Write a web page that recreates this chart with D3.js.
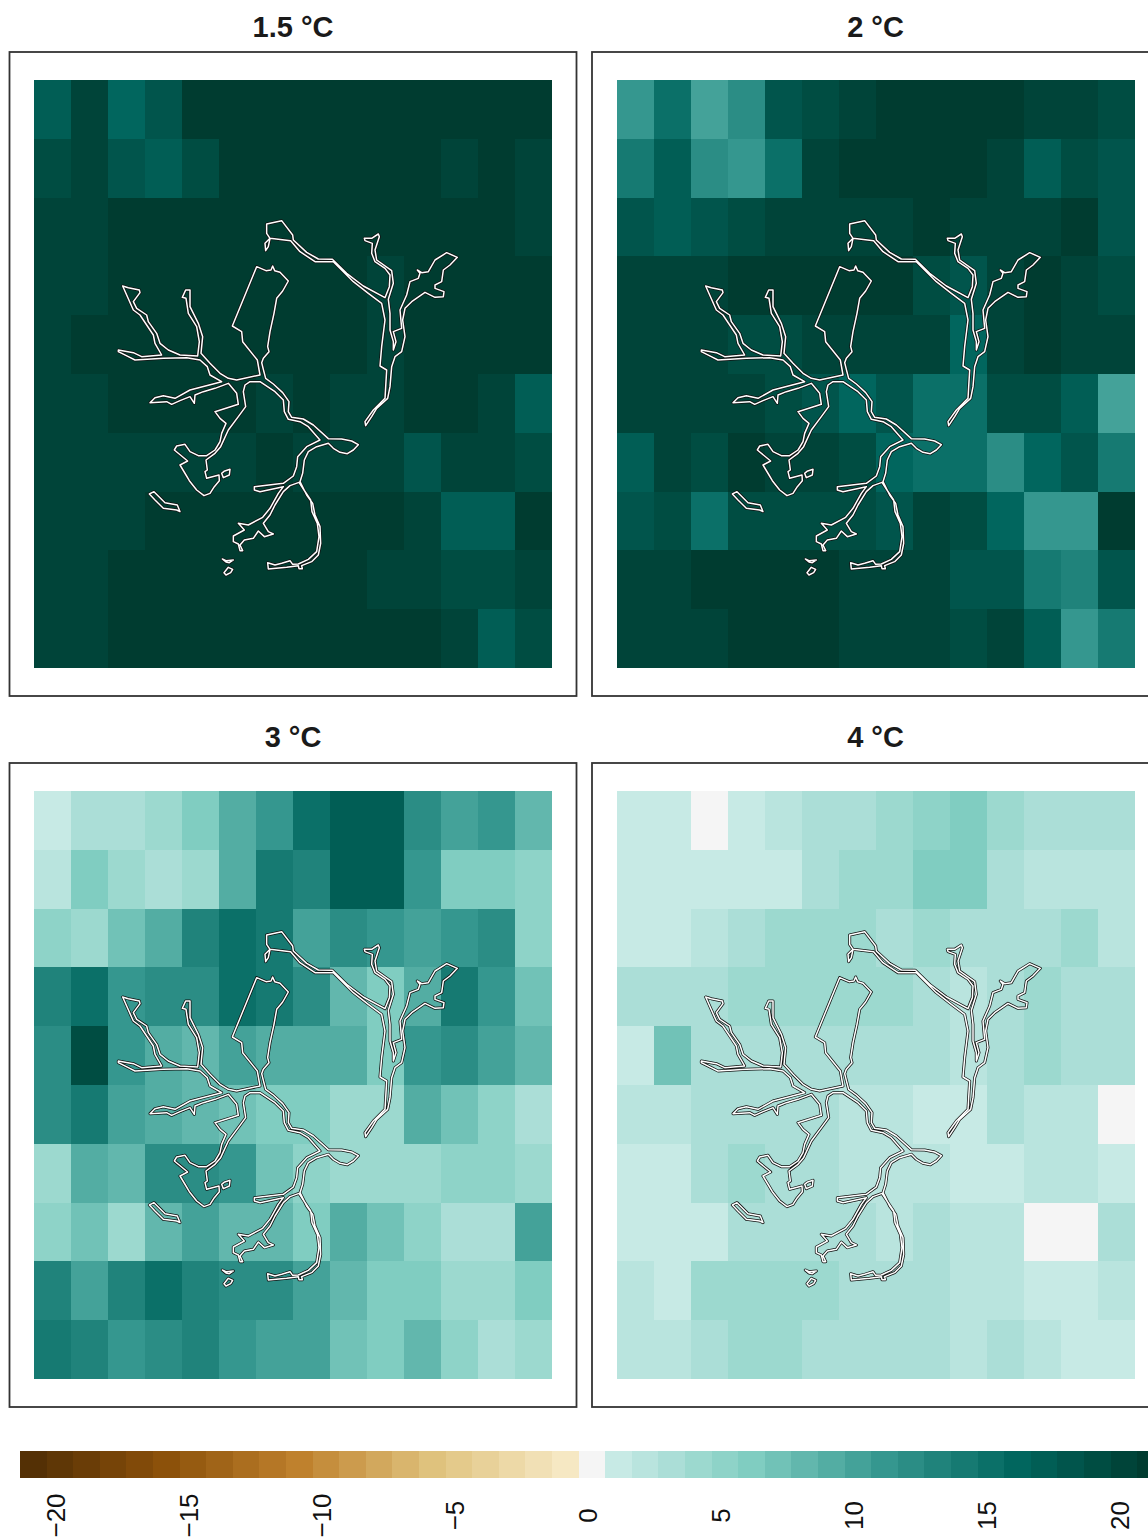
<!DOCTYPE html>
<html>
<head>
<meta charset="utf-8">
<script src="https://cdn.jsdelivr.net/npm/d3@7"></script>
<style>
html, body { margin: 0; padding: 0; background: #fff; overflow: hidden; }
svg { display: block; }
text { font-family: "Liberation Sans", Arial, sans-serif; }
</style>
</head>
<body>
<script>
// Warming levels, one panel each
const titles = ["1.5 °C", "2 °C", "3 °C", "4 °C"];

// Change per grid cell, 10 rows of 14 columns
const values15 = [
  [17,20,16,18,21,21,21,21,21,21,21,21,21,21],
  [19,20,18,17,19,21,21,21,21,21,21,20,21,20],
  [20,20,21,21,21,21,21,21,21,21,21,21,21,20],
  [20,20,21,21,21,21,21,21,21,20,21,21,21,21],
  [20,21,21,21,21,21,21,21,21,20,21,21,21,21],
  [20,20,21,21,21,21,20,21,20,20,21,21,20,17],
  [20,20,20,20,20,20,21,20,20,20,18,20,20,19],
  [20,20,20,21,21,21,21,21,21,21,20,17,17,21],
  [20,20,21,21,21,21,21,21,21,20,20,19,19,20],
  [20,20,21,21,21,21,21,21,21,21,21,20,17,19]
];
const values2 = [
  [11,15,10,12,18,19,20,21,21,21,21,20,20,19],
  [14,17,12,11,15,20,21,21,21,21,20,17,19,18],
  [18,17,18,19,20,20,20,20,21,20,20,20,21,18],
  [20,20,20,21,21,21,21,21,19,18,20,21,20,19],
  [20,20,20,19,19,20,20,20,20,16,20,21,20,20],
  [20,20,20,20,19,18,16,18,15,15,19,19,17,10],
  [17,20,19,21,20,20,19,16,15,15,12,16,18,14],
  [18,19,15,19,19,19,19,18,20,19,16,11,11,21],
  [20,20,21,21,21,21,20,20,20,18,18,14,13,18],
  [20,20,20,21,21,21,20,20,20,19,20,17,11,14]
];
const values3 = [
  [1,3,3,4,6,9,11,15,17,17,12,10,11,8],
  [2,6,4,3,4,9,14,13,17,17,11,6,6,5],
  [5,4,7,9,13,15,14,10,12,11,10,11,12,5],
  [13,15,11,12,12,15,14,12,8,6,9,14,11,7],
  [12,19,11,9,8,10,9,9,9,6,11,12,10,8],
  [12,14,10,9,8,7,6,6,4,4,9,7,5,3],
  [4,9,8,12,12,11,7,5,4,4,4,5,5,4],
  [5,7,4,8,10,8,8,6,9,7,5,3,3,10],
  [13,10,13,15,13,12,12,10,8,6,6,4,4,6],
  [14,13,11,12,13,11,10,10,7,6,8,5,3,4]
];
const values4 = [
  [1,1,0,1,2,3,3,4,5,6,4,3,3,3],
  [1,1,1,1,1,3,4,4,6,6,3,2,2,2],
  [1,1,2,3,4,4,4,3,4,3,3,3,4,2],
  [3,3,3,4,4,4,4,4,3,2,3,4,3,3],
  [1,7,3,3,3,3,3,3,3,2,3,4,3,3],
  [2,2,3,3,3,3,2,2,1,1,3,2,2,0],
  [1,1,3,4,3,3,2,2,2,1,1,2,2,1],
  [1,1,1,3,3,3,3,2,3,2,2,0,0,3],
  [2,1,4,4,4,4,3,3,3,2,2,1,1,2],
  [2,2,3,4,4,3,3,3,3,2,3,2,1,1]
];
const panelValues = [values15, values2, values3, values4];

// Colour key
const levels = d3.range(-21, 22);
const colourStops = [-21, -16, -11, -6, -1, 0, 1, 6, 11, 16, 21];
const colours = ["#543005","#8c510a","#bf812d","#dfc27d","#f6e8c3","#f5f5f5","#c7eae5","#80cdc1","#35978f","#01665e","#003c30"];
const keyTicks = [-20, -15, -10, -5, 0, 5, 10, 15, 20];

// River outlines in map units
const riverWest = [[470,170],[498,182],[513,180],[518,168],[524,182],[540,187],[565,213],[548,243],[530,265],[522,310],[510,365],[503,410],[507,425],[490,445],[485,458],[490,478],[497,505],[520,522],[548,548],[567,575],[565,605],[575,622],[610,627],[640,645],[685,686],[725,687],[755,693],[775,704],[760,720],[742,731],[720,727],[700,715],[685,700],[650,710],[625,725],[613,750],[608,790],[600,815],[620,855],[638,880],[645,915],[660,950],[662,1000],[655,1035],[635,1055],[605,1067],[607,1076],[597,1076],[595,1067],[560,1072],[505,1077],[503,1058],[525,1065],[545,1060],[570,1052],[578,1063],[595,1062],[625,1048],[650,1025],[657,980],[652,940],[636,905],[632,870],[612,840],[597,817],[570,827],[550,845],[525,885],[510,915],[490,940],[505,965],[520,972],[493,980],[475,963],[460,985],[433,990],[420,1005],[428,1022],[420,1022],[415,1002],[400,995],[400,978],[433,960],[415,940],[445,945],[488,922],[510,895],[535,850],[550,830],[480,845],[463,840],[463,830],[550,820],[580,798],[590,770],[593,740],[620,710],[660,690],[625,650],[600,635],[565,628],[553,605],[550,570],[525,545],[480,515],[450,515],[435,525],[430,545],[437,590],[415,620],[385,660],[362,710],[345,730],[318,750],[322,780],[315,785],[320,805],[357,795],[358,812],[343,830],[330,850],[312,857],[290,840],[268,812],[258,795],[240,765],[263,753],[223,720],[230,708],[255,703],[270,725],[295,737],[320,737],[345,720],[360,695],[365,670],[378,640],[360,625],[345,605],[415,583],[410,550],[385,520],[345,535],[310,545],[285,555],[283,580],[270,560],[240,572],[215,583],[200,575],[150,578],[165,563],[190,557],[225,565],[270,540],[365,515],[330,495],[322,470],[300,450],[260,443],[190,445],[105,450],[85,440],[55,425],[55,420],[100,428],[125,440],[185,435],[165,400],[160,375],[130,330],[120,315],[100,300],[68,228],[85,233],[118,240],[120,248],[100,275],[110,295],[140,315],[145,335],[170,370],[180,400],[205,420],[240,435],[293,438],[298,395],[290,350],[265,310],[258,265],[247,262],[257,240],[270,240],[270,290],[295,340],[308,380],[303,430],[330,460],[360,490],[385,505],[410,510],[480,495],[472,450],[428,395],[425,365],[397,348]];
const riverEast = [[510,85],[500,70],[500,42],[545,32],[578,75],[580,90],[620,127],[655,147],[697,148],[740,190],[790,228],[855,263],[868,230],[870,195],[855,175],[825,155],[815,130],[817,100],[795,92],[793,85],[815,85],[835,72],[838,80],[825,120],[830,150],[875,182],[880,220],[865,268],[870,310],[870,360],[880,395],[880,420],[888,395],[880,365],[905,355],[900,300],[920,255],[930,215],[955,205],[960,190],[952,180],[965,188],[985,185],[1005,150],[1040,128],[1072,142],[1050,165],[1030,180],[1025,215],[1005,225],[1005,235],[1032,245],[1030,260],[1005,262],[975,247],[935,275],[915,295],[908,330],[915,380],[905,425],[885,440],[875,470],[870,530],[863,565],[830,595],[815,620],[797,647],[795,635],[820,600],[855,565],[860,480],[840,468],[845,410],[855,330],[845,280],[805,250],[760,215],[700,155],[645,155],[600,125],[572,92],[510,85],[495,100],[497,122],[505,110]];
const lakeA = [[365,790],[372,784],[390,778],[388,795],[370,803]];
const lakeB = [[148,852],[162,845],[195,878],[232,885],[240,905],[230,900],[190,895],[165,870]];
const lakeC = [[367,1047],[378,1052],[400,1050],[388,1058],[378,1056]];
const lakeD = [[372,1088],[385,1072],[398,1078],[392,1088],[378,1095]];
const riverParts = [riverWest, riverEast, lakeA, lakeB, lakeC, lakeD];

const width = 1148;
const height = 1537;

const svg = d3.select("body")
    .append("svg")
    .attr("width", width)
    .attr("height", height);

const colour = d3.scaleLinear()
    .domain(colourStops)
    .range(colours)
    .interpolate(d3.interpolateRgb);

// Panel grid
const gridW = 518;
const gridH = 588;
const x = d3.scaleBand().domain(d3.range(14)).range([0, gridW]);
const y = d3.scaleBand().domain(d3.range(10)).range([0, gridH]);

// Map units to panel pixels
const map_x = d3.scaleLinear().domain([-198, 1356]).range([0, gridW]);
const map_y = d3.scaleLinear().domain([-390, 1374]).range([0, gridH]);
const river_line = d3.line().x(d => map_x(d[0])).y(d => map_y(d[1]));

const panelLeft = [34, 617];
const panelTop = [80, 791];

titles.forEach((title, i) => {
    const right = i % 2 === 1;
    const g = svg.append("g")
        .attr("transform", `translate(${panelLeft[i % 2]}, ${panelTop[Math.floor(i / 2)]})`);

    // Frame
    g.append("rect")
        .attr("x", right ? -25 : -24.5)
        .attr("y", -28)
        .attr("width", 567)
        .attr("height", 644)
        .attr("fill", "none")
        .attr("stroke", "#333333")
        .attr("stroke-width", 1.8);

    g.append("text")
        .attr("x", gridW / 2 - (right ? 0.5 : 0))
        .attr("y", i < 2 ? -43 : -44)
        .attr("text-anchor", "middle")
        .attr("font-size", 29)
        .attr("font-weight", "bold")
        .attr("fill", "#1a1a1a")
        .text(title);

    // Cells
    panelValues[i].forEach((row, r) => {
        g.selectAll(null)
            .data(row)
            .enter()
            .append("rect")
            .attr("x", (d, c) => x(c))
            .attr("y", y(r))
            .attr("width", x.bandwidth())
            .attr("height", y.bandwidth())
            .attr("fill", d => colour(d))
            .attr("shape-rendering", "crispEdges");
    });

    // River, dark casing under a white line
    g.selectAll(null)
        .data(riverParts)
        .enter()
        .append("path")
        .attr("d", d => river_line(d) + "Z")
        .attr("fill", "none")
        .attr("stroke", "#111111")
        .attr("stroke-width", 3)
        .attr("stroke-linejoin", "round");
    g.selectAll(null)
        .data(riverParts)
        .enter()
        .append("path")
        .attr("d", d => river_line(d) + "Z")
        .attr("fill", "none")
        .attr("stroke", "#ffffff")
        .attr("stroke-width", 1.5)
        .attr("stroke-linejoin", "round");
});

// Colour key, each level one unit wide
const key_x = d3.scaleLinear()
    .domain([-21.5, 21.5])
    .range([20, 1163.8]);

svg.append("g")
    .selectAll("rect")
    .data(levels)
    .enter()
    .append("rect")
    .attr("x", d => key_x(d - 0.5))
    .attr("y", 1451)
    .attr("width", d => key_x(d + 0.5) - key_x(d - 0.5))
    .attr("height", 27)
    .attr("fill", d => colour(d))
    .attr("shape-rendering", "crispEdges");

const key_axis = d3.axisBottom(key_x)
    .tickValues(keyTicks)
    .tickSize(0);

const key_g = svg.append("g")
    .attr("transform", "translate(0, 1478)")
    .call(key_axis);
key_g.select(".domain").remove();
key_g.selectAll("text")
    .attr("font-size", 26)
    .attr("font-family", null)
    .attr("fill", "#111111")
    .attr("text-anchor", "middle")
    .attr("dy", null)
    .attr("y", null)
    .attr("transform", "translate(5, 37.5) rotate(-90)");
</script>
</body>
</html>
